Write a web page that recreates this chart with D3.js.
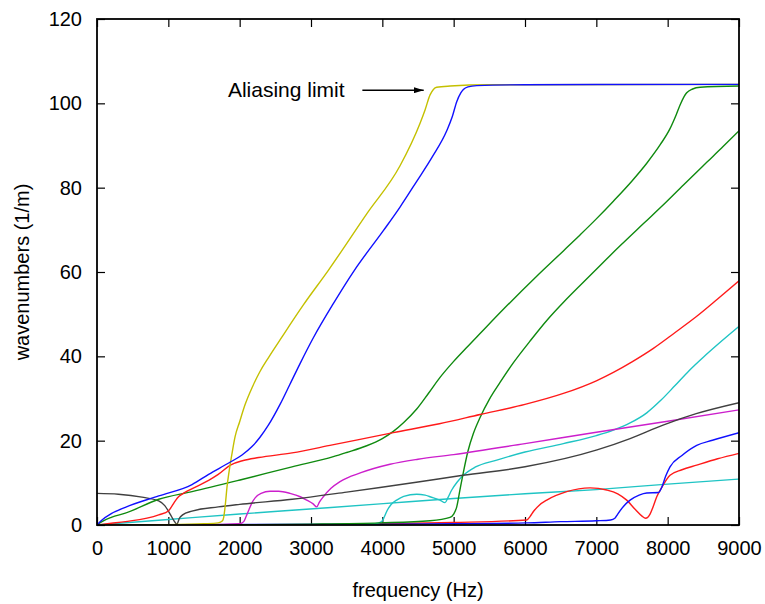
<!DOCTYPE html>
<html>
<head>
<meta charset="utf-8">
<script src="https://cdn.jsdelivr.net/npm/d3@7"></script>
<style>
  body { margin: 0; background: #fff; }
  svg { font-family: "Liberation Sans", Arial, sans-serif; }
</style>
</head>
<body>
<div id="chart"></div>
<script>
// frequency (Hz) / wavenumber (1/m) pairs
const xTicks = [0, 1000, 2000, 3000, 4000, 5000, 6000, 7000, 8000, 9000];
const yTicks = [0, 20, 40, 60, 80, 100, 120];

const grayBranch = [[0,7.5],[300,7.3],[630,6.6],[865,5.7],[950,4.6],[1025,2.6],[1080,1.0],[1120,0.2],[1155,1.6],[1200,2.4],[1330,3.3],[1700,4.3],[2000,4.9],[2735,6.1],[3500,7.8],[3967,8.9],[4500,10.2],[5130,11.8],[6000,13.8],[7010,17.8],[7473,20.5],[7935,23.7],[8400,26.4],[9000,29]];
const blueUpper = [[0,0],[70,1.2],[200,2.7],[397,4.2],[865,6.9],[1332,9.6],[1565,12.0],[1846,14.7],[2033,16.6],[2173,18.6],[2285,20.8],[2400,23.6],[2566,28.6],[2700,33.2],[2850,38.4],[3033,44.4],[3313,52.5],[3608,60.4],[4014,69.8],[4248,75.4],[4482,81.5],[4700,87.3],[4903,93.5],[4980,96.8],[5043,100.4],[5100,102.5],[5136,103.3],[5200,103.9],[5323,104.2],[6000,104.4],[9000,104.5]];
const yellowBranch = [[0,0],[1000,0.1],[1500,0.3],[1700,0.5],[1760,1.0],[1776,1.8],[1800,5],[1823,9.1],[1850,12.5],[1893,17],[1935,20.9],[2000,24.5],[2075,28.5],[2180,32.8],[2285,36.4],[2400,39.6],[2589,44.5],[2893,52.2],[3243,60.4],[3781,73.8],[4248,85.2],[4529,95.3],[4600,98.5],[4669,102],[4716,103.3],[4762,103.8],[4950,104.1],[5500,104.4],[9000,104.5]];
const redUpper = [[0,0],[200,0.4],[397,0.8],[865,2.4],[1005,3.4],[1050,4.5],[1100,5.8],[1150,6.8],[1200,7.4],[1285,8.2],[1450,9.6],[1565,10.6],[1700,12.0],[1869,14.2],[2050,15.3],[2267,16],[2734,17.1],[3300,19],[4154,21.9],[4800,24],[5370,26.2],[6000,28.6],[6538,31.2],[7000,34.2],[7239,36.2],[7500,38.7],[7800,41.9],[8100,45.6],[8408,49.5],[8700,53.6],[9000,57.9]];
const greenFirst = [[0,0],[70,0.8],[200,1.8],[397,2.8],[865,6.1],[1332,7.9],[2033,10.8],[2734,13.8],[3313,16.2],[3500,17.2],[3781,18.8],[4000,20.5],[4154,22.2],[4300,24.3],[4482,27.5],[4650,31.3],[4809,35.0],[5000,38.8],[5200,42.4],[5370,45.4],[5700,51.2],[6164,59.0],[6538,65.0],[6772,68.8],[7000,72.6],[7239,76.8],[7500,81.6],[7707,85.8],[7900,90.3],[8033,94.0],[8120,97.3],[8174,99.6],[8230,101.6],[8267,102.5],[8350,103.4],[8455,103.8],[9000,104.1]];
const greenSecond = [[0,0],[2000,0.05],[3000,0.2],[3967,0.5],[4668,1.0],[4949,1.8],[5000,2.6],[5043,4.3],[5090,8.5],[5136,12.5],[5200,17.5],[5276,21.7],[5370,25.5],[5500,29.8],[5650,33.8],[5838,38.5],[6070,43.6],[6305,48.5],[6550,53],[6772,56.8],[7050,61.5],[7333,66.2],[7650,71.3],[7987,76.7],[8250,81.1],[8548,86],[8780,89.8],[9000,93.5]];
const magentaBranch = [[0,0],[1500,0.05],[2000,0.3],[2057,0.8],[2090,2],[2127,3.5],[2170,5.2],[2220,6.5],[2300,7.5],[2426,8.0],[2547,8.0],[2706,7.5],[2850,6.7],[2940,5.9],[3030,5],[3080,4.3],[3120,5.5],[3173,6.7],[3280,8.7],[3407,10.3],[3700,12.4],[4108,14.4],[4500,15.6],[5000,16.7],[6000,19.3],[7000,22],[8000,24.6],[9000,27.3]];
const cyanLine = [[0,0],[1000,1.3],[2000,2.6],[2734,3.5],[3967,5.0],[5000,6.3],[6000,7.4],[7000,8.4],[8000,9.7],[9000,10.9]];
const cyanSecond = [[0,0],[3000,0.1],[3900,0.3],[3990,0.8],[4030,2],[4061,3.2],[4120,4.8],[4201,5.9],[4300,6.8],[4482,7.3],[4600,7.1],[4669,6.7],[4809,5.9],[4879,5.3],[4920,6.5],[4973,8.3],[5050,10.2],[5136,11.8],[5300,13.7],[5604,15.4],[6000,17.3],[6538,19.3],[7000,21.2],[7239,22.5],[7473,24.2],[7707,26.6],[7900,29.5],[8100,33.0],[8300,36.6],[8500,39.8],[8700,42.8],[9000,47.1]];
const blueLower = [[0,0],[4000,0.2],[5000,0.3],[6024,0.5],[6500,0.8],[7000,1.0],[7200,1.2],[7260,1.6],[7300,2.6],[7380,4.4],[7473,5.9],[7600,7.1],[7707,7.6],[7870,7.7],[7916,8.9],[7970,11.5],[8033,13.8],[8200,16.5],[8407,18.9],[8628,20.1],[9000,21.9]];
const redLower = [[0,0],[3000,0.1],[3967,0.3],[5000,0.6],[6024,1.2],[6070,2],[6118,3.2],[6200,4.7],[6305,5.9],[6585,7.9],[6912,8.8],[7146,8.3],[7300,7.4],[7426,5.9],[7550,3.6],[7640,2.1],[7690,1.6],[7753,2.6],[7800,4.5],[7847,6.7],[7920,9.0],[8033,11.8],[8200,13.1],[8407,14.2],[8700,15.7],[9000,17]];

const seriesList = [
    { name: "cyanLine", values: cyanLine, color: "#1fc4c4" },
    { name: "redLower", values: redLower, color: "#ff1a1a" },
    { name: "blueLower", values: blueLower, color: "#1010ff" },
    { name: "cyanSecond", values: cyanSecond, color: "#1fc4c4" },
    { name: "greenSecond", values: greenSecond, color: "#0f8a0f" },
    { name: "magenta", values: magentaBranch, color: "#cc1fcc" },
    { name: "gray", values: grayBranch, color: "#404040" },
    { name: "greenFirst", values: greenFirst, color: "#0f8a0f" },
    { name: "redUpper", values: redUpper, color: "#ff1a1a" },
    { name: "yellow", values: yellowBranch, color: "#c4c000" },
    { name: "blueUpper", values: blueUpper, color: "#1010ff" }
];

const noteText = "Aliasing limit";
const noteAt = [1835, 101.5];
const arrowFrom = [3720, 103.1];
const arrowTo = [4580, 103.1];

const width = 765, height = 604;
const margin = { top: 19, right: 26, bottom: 79, left: 97 };
const plotW = width - margin.left - margin.right;
const plotH = height - margin.top - margin.bottom;

const svg = d3.select("#chart").append("svg")
    .attr("width", width)
    .attr("height", height);

const g = svg.append("g")
    .attr("transform", `translate(${margin.left},${margin.top})`);

const x = d3.scaleLinear().domain([0, 9000]).range([0, plotW]);
const y = d3.scaleLinear().domain([0, 120]).range([plotH, 0]);

svg.append("defs").append("clipPath").attr("id", "clip")
    .append("rect").attr("width", plotW).attr("height", plotH);

// ticks pointing inward on all four sides, labels only bottom/left
function styleAxis(sel) {
    sel.select(".domain").remove();
    sel.selectAll(".tick line").attr("stroke", "#000").attr("stroke-width", 1.2);
    sel.selectAll(".tick text").attr("fill", "#000").style("font-size", "20px");
}

g.append("g")
    .attr("transform", `translate(0,${plotH})`)
    .call(d3.axisBottom(x).tickValues(xTicks).tickSize(-8).tickPadding(16).tickFormat(d3.format("d")))
    .call(styleAxis);

g.append("g")
    .call(d3.axisTop(x).tickValues(xTicks).tickSize(-8).tickFormat(""))
    .call(styleAxis);

g.append("g")
    .call(d3.axisLeft(y).tickValues(yTicks).tickSize(-8).tickPadding(15).tickFormat(d3.format("d")))
    .call(styleAxis);

g.append("g")
    .attr("transform", `translate(${plotW},0)`)
    .call(d3.axisRight(y).tickValues(yTicks).tickSize(-8).tickFormat(""))
    .call(styleAxis);

const line = d3.line()
    .x(d => x(d[0]))
    .y(d => y(d[1]))
    .curve(d3.curveMonotoneX);

g.append("g").attr("clip-path", "url(#clip)")
    .selectAll("path")
    .data(seriesList)
    .enter().append("path")
    .attr("fill", "none")
    .attr("stroke", d => d.color)
    .attr("stroke-width", 1.4)
    .attr("d", d => line(d.values));

g.append("rect")
    .attr("width", plotW)
    .attr("height", plotH)
    .attr("fill", "none")
    .attr("stroke", "#000")
    .attr("stroke-width", 1.8);

// annotation
g.append("text")
    .attr("x", x(noteAt[0]))
    .attr("y", y(noteAt[1]))
    .style("font-size", "21px")
    .text(noteText);

svg.select("defs").append("marker")
    .attr("id", "head")
    .attr("viewBox", "0 0 10 6")
    .attr("refX", 10).attr("refY", 3)
    .attr("markerWidth", 10).attr("markerHeight", 6)
    .attr("markerUnits", "userSpaceOnUse")
    .attr("orient", "auto")
    .append("path").attr("d", "M0,0L10,3L0,6Z").attr("fill", "#000");

g.append("line")
    .attr("x1", x(arrowFrom[0])).attr("y1", y(arrowFrom[1]))
    .attr("x2", x(arrowTo[0])).attr("y2", y(arrowTo[1]))
    .attr("stroke", "#000").attr("stroke-width", 1.3)
    .attr("marker-end", "url(#head)");

// axis titles
svg.append("text")
    .attr("x", margin.left + plotW / 2)
    .attr("y", 597)
    .attr("text-anchor", "middle")
    .style("font-size", "20px")
    .text("frequency (Hz)");

svg.append("text")
    .attr("transform", `translate(29,${margin.top + plotH / 2}) rotate(-90)`)
    .attr("text-anchor", "middle")
    .style("font-size", "20px")
    .text("wavenumbers (1/m)");
</script>
</body>
</html>
